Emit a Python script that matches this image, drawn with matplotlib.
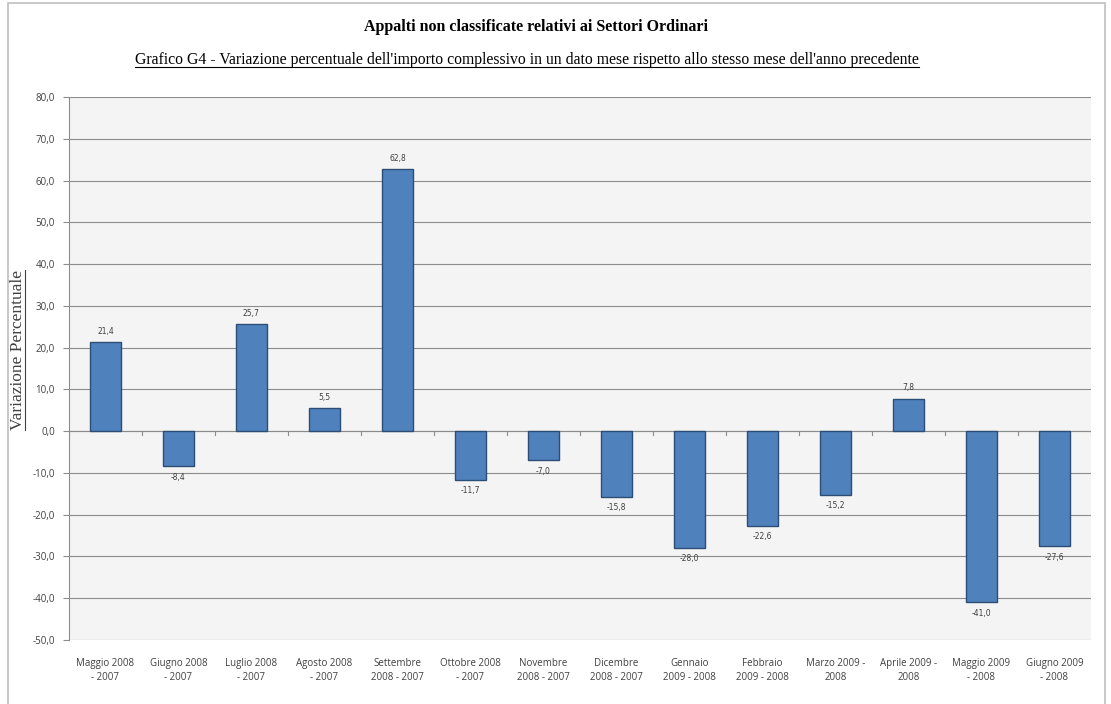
import matplotlib
matplotlib.use("Agg")
import matplotlib.pyplot as plt
from matplotlib.lines import Line2D
from matplotlib.patches import Rectangle
import numpy as np

# periods compared (month of year vs same month previous year)
categories = ["Maggio 2008\n- 2007", "Giugno 2008\n- 2007", "Luglio 2008\n- 2007",
              "Agosto 2008\n- 2007", "Settembre\n2008 - 2007", "Ottobre 2008\n- 2007",
              "Novembre\n2008 - 2007", "Dicembre\n2008 - 2007", "Gennaio\n2009 - 2008",
              "Febbraio\n2009 - 2008", "Marzo 2009 -\n2008", "Aprile 2009 -\n2008",
              "Maggio 2009\n- 2008", "Giugno 2009\n- 2008"]
variazione = [21.4, -8.4, 25.7, 5.5, 62.8, -11.7, -7.0, -15.8, -28.0, -22.6, -15.2, 7.8, -41.0, -27.6]
yticks = list(range(-50, 81, 10))

fig = plt.figure(figsize=(11.11, 7.04), dpi=100)
fig.patches.append(Rectangle((8 / 1111, -0.01), 1097 / 1111, 1.0 - 3 / 704 + 0.01,
                             transform=fig.transFigure, fill=False,
                             edgecolor="#bfbfbf", linewidth=1.2))

ax = fig.add_axes([0.062, 0.091, 0.920, 0.771])
ax.set_facecolor("#f4f4f4")
x = np.arange(len(categories))
ax.bar(x, variazione, width=0.42, color="#4f81bd", edgecolor="#2c4d75", linewidth=1.0, zorder=3)

for xi, v in zip(x, variazione):
    lab = f"{v:.1f}".replace(".", ",")
    if v >= 0:
        ax.text(xi, v + 1.5, lab, ha="center", va="bottom", fontsize=5.5, color="#404040")
    else:
        ax.text(xi, v - 1.5, lab, ha="center", va="top", fontsize=5.5, color="#404040")

ax.set_xlim(-0.5, len(categories) - 0.5)
ax.set_ylim(-50, 80)
ax.set_yticks(yticks)
ax.set_yticklabels([f"{t:.1f}".replace(".", ",") for t in yticks],
                   fontsize=7, color="#404040", family="Open Sans")
ax.set_xticks(x)
ax.set_xticklabels(categories, fontsize=7, color="#404040", family="Open Sans", linespacing=1.4)
ax.tick_params(axis="x", length=0, pad=13)
ax.tick_params(axis="y", length=4, color="#8c8c8c", pad=6)
ax.grid(axis="y", color="#8c8c8c", linewidth=0.8, zorder=0)
for s in ["top", "right", "bottom"]:
    ax.spines[s].set_visible(False)
ax.spines["left"].set_color("#8c8c8c")

# zero line with minor category ticks
ax.axhline(0, color="#8c8c8c", linewidth=0.8, zorder=2)
for b in np.arange(-0.5, len(categories), 1.0):
    ax.plot([b, b], [0, -1.0], color="#8c8c8c", linewidth=0.8, zorder=2)

serif = "Liberation Serif"
t1 = fig.text(0.482, 1 - 27 / 704, "Appalti non classificate relativi ai Settori Ordinari",
              ha="center", va="center", fontsize=11.5, fontweight="bold", family=serif)
t2 = fig.text(0.474, 1 - 60 / 704,
              "Grafico G4 - Variazione percentuale dell'importo complessivo in un dato mese rispetto allo stesso mese dell'anno precedente",
              ha="center", va="center", fontsize=11.3, family=serif)
t3 = fig.text(18 / 1111, 0.503, "Variazione Percentuale", ha="center", va="center",
              rotation=90, fontsize=12.5, family=serif, color="#404040")

fig.canvas.draw()
r = fig.canvas.get_renderer()
bb = t2.get_window_extent(r)
fig.add_artist(Line2D([bb.x0, bb.x1], [bb.y0 + 1, bb.y0 + 1], transform=None, color="black", linewidth=0.8))
bb = t3.get_window_extent(r)
fig.add_artist(Line2D([bb.x1 - 1, bb.x1 - 1], [bb.y0, bb.y1], transform=None, color="#404040", linewidth=0.8))

fig.savefig("out.png", dpi=100)
